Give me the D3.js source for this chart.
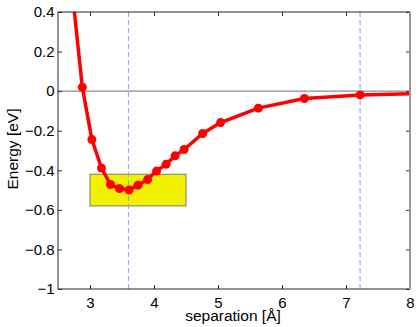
<!DOCTYPE html>
<html><head><meta charset="utf-8">
<script src="https://cdn.jsdelivr.net/npm/d3@7"></script>
<style>
html,body{margin:0;padding:0;background:#fff;}
svg{display:block;font-family:"Liberation Sans",Arial,sans-serif;}
</style></head>
<body>
<svg id="chart" width="420" height="327"></svg>
<script>
// data
const separation = [2.72, 2.88, 3.03, 3.18, 3.32, 3.46, 3.61, 3.75, 3.90, 4.04, 4.19, 4.33, 4.47, 4.76, 5.04, 5.63, 6.35, 7.22, 8.70];
const energy     = [0.51, 0.02, -0.245, -0.389, -0.472, -0.492, -0.500, -0.475, -0.447, -0.404, -0.369, -0.327, -0.295, -0.214, -0.159, -0.086, -0.037, -0.019, -0.009];
const xTicks = [3, 4, 5, 6, 7, 8];
const yTicks = [0.4, 0.2, 0, -0.2, -0.4, -0.6, -0.8, -1];
const markerLines = [3.60, 7.22];
const boxX = [3.0, 4.5];
const boxY = [-0.42, -0.58];

const svg = d3.select("#chart");
const L = 58, R = 410, T = 12, B = 289;
const x = d3.scaleLinear().domain([2.5, 8]).range([L, R]);
const y = d3.scaleLinear().domain([-1, 0.4]).range([B, T]);

svg.append("defs").append("clipPath").attr("id", "clip")
  .append("rect").attr("x", L).attr("y", T).attr("width", R - L).attr("height", B - T);

const plot = svg.append("g").attr("clip-path", "url(#clip)");

// zero line
plot.append("line").attr("x1", L).attr("x2", R).attr("y1", y(0)).attr("y2", y(0))
  .attr("stroke", "#8c8c8c").attr("stroke-width", 1.2);

// yellow box
plot.append("rect")
  .attr("x", x(boxX[0])).attr("y", y(boxY[0]))
  .attr("width", x(boxX[1]) - x(boxX[0])).attr("height", y(boxY[1]) - y(boxY[0]))
  .attr("fill", "#f2f200").attr("stroke", "#7a7a6a").attr("stroke-width", 1);

// dashed lines
plot.selectAll(".vl").data(markerLines).join("line")
  .attr("x1", d => x(d)).attr("x2", d => x(d)).attr("y1", T).attr("y2", B)
  .attr("stroke", "#7f9bff").attr("stroke-width", 1).attr("stroke-dasharray", "5,3");

// curve
const pts = separation.map((s, i) => [s, energy[i]]);
plot.append("path").datum(pts)
  .attr("d", d3.line().x(d => x(d[0])).y(d => y(d[1])))
  .attr("fill", "none").attr("stroke", "#ff0000").attr("stroke-width", 3.5).attr("stroke-linejoin", "round");
plot.selectAll(".pt").data(pts).join("circle")
  .attr("cx", d => x(d[0])).attr("cy", d => y(d[1])).attr("r", 4.5).attr("fill", "#ff0000");

// axes
const tickLen = 4;
const ax = svg.append("g");
const xb = d3.axisBottom(x).tickValues(xTicks).tickSizeInner(-tickLen).tickSizeOuter(0).tickPadding(8).tickFormat(d3.format("d"));
ax.append("g").attr("transform", `translate(0,${B})`).call(xb);
const xt = d3.axisTop(x).tickValues(xTicks).tickSizeInner(-tickLen).tickSizeOuter(0).tickFormat("");
ax.append("g").attr("transform", `translate(0,${T})`).call(xt);
const fmtY = d => (d < 0 ? "\u2212" : "") + d3.format("")(Math.abs(+d.toFixed(1)));
const yl = d3.axisLeft(y).tickValues(yTicks).tickSizeInner(-tickLen).tickSizeOuter(0).tickPadding(3.5).tickFormat(fmtY);
ax.append("g").attr("transform", `translate(${L},0)`).call(yl);
const yr = d3.axisRight(y).tickValues(yTicks).tickSizeInner(-tickLen).tickSizeOuter(0).tickFormat("");
ax.append("g").attr("transform", `translate(${R},0)`).call(yr);

ax.selectAll("path.domain").remove();
ax.selectAll(".tick line").attr("stroke", "#333");
ax.selectAll(".tick text").attr("font-size", 15).attr("fill", "#000")
  .attr("font-family", "'Liberation Sans', Arial, sans-serif");

// box frame
svg.append("line").attr("x1", L).attr("x2", R).attr("y1", T).attr("y2", T).attr("stroke", "#222").attr("stroke-width", 1);
svg.append("line").attr("x1", L).attr("x2", R).attr("y1", B).attr("y2", B).attr("stroke", "#222").attr("stroke-width", 1);
svg.append("line").attr("x1", L).attr("x2", L).attr("y1", T).attr("y2", B).attr("stroke", "#222").attr("stroke-width", 1);
svg.append("line").attr("x1", R).attr("x2", R).attr("y1", T - 0.5).attr("y2", B + 0.5).attr("stroke", "#999").attr("stroke-width", 2);

// labels
svg.append("text").attr("x", 233).attr("y", 321).attr("text-anchor", "middle")
  .attr("font-size", 15.5).text("separation [\u00c5]");
svg.append("text").attr("transform", "translate(18,149) rotate(-90)").attr("text-anchor", "middle")
  .attr("font-size", 15.5).text("Energy [eV]");
</script>
</body></html>
